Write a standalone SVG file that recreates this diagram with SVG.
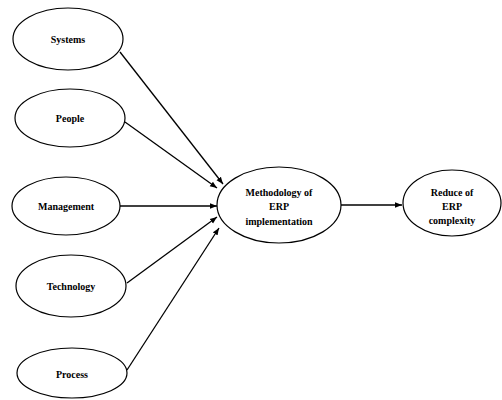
<svg xmlns="http://www.w3.org/2000/svg" width="502" height="400" viewBox="0 0 502 400">
<style>
.n ellipse{fill:#fff;stroke:#000;stroke-width:1.2}
.n text{font-family:"Liberation Serif","Times New Roman",serif;font-weight:bold;font-size:10px;text-anchor:middle;fill:#000}
.e line{stroke:#000;stroke-width:1.3;marker-end:url(#ah)}
</style>
<defs>
<marker id="ah" viewBox="0 0 10 10" refX="10" refY="5" markerWidth="7" markerHeight="7" orient="auto" markerUnits="userSpaceOnUse">
<path d="M0,1 L10,5 L0,9 Z" fill="#000"/>
</marker>
</defs>
<rect width="502" height="400" fill="#fff"/>
<g id="edges" class="e">
<line x1="120" y1="52" x2="223" y2="184"/>
<line x1="125" y1="122" x2="217" y2="188"/>
<line x1="120" y1="206" x2="217" y2="206"/>
<line x1="127" y1="283" x2="217" y2="217"/>
<line x1="127" y1="370" x2="219" y2="228"/>
<line x1="341" y1="205" x2="402" y2="205"/>
</g>
<g id="systems" class="n"><ellipse cx="68" cy="39" rx="55" ry="31"/><text x="68" y="43">Systems</text></g>
<g id="people" class="n"><ellipse cx="70" cy="118" rx="55" ry="29"/><text x="70" y="122">People</text></g>
<g id="management" class="n"><ellipse cx="66" cy="206" rx="54" ry="29"/><text x="66" y="210">Management</text></g>
<g id="technology" class="n"><ellipse cx="71" cy="286" rx="55" ry="31"/><text x="71" y="290">Technology</text></g>
<g id="process" class="n"><ellipse cx="72" cy="373" rx="55" ry="25"/><text x="72" y="378">Process</text></g>
<g id="methodology" class="n"><ellipse cx="279" cy="205" rx="62" ry="38"/><text x="279" y="196">Methodology of</text><text x="279" y="210">ERP</text><text x="279" y="225">implementation</text></g>
<g id="reduce" class="n"><ellipse cx="452" cy="203" rx="49" ry="33"/><text x="452" y="196">Reduce of</text><text x="452" y="210">ERP</text><text x="452" y="224">complexity</text></g>
</svg>
